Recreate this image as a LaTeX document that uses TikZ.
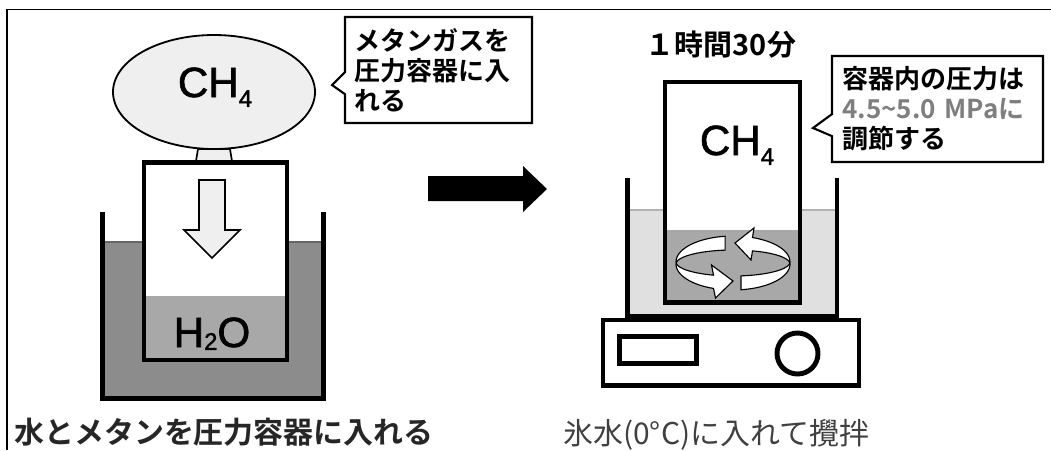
\documentclass[tikz,border=0pt]{standalone}
\usepackage{fontspec}
\setmainfont{Liberation Sans}
\newfontfamily\jp[BoldFont={Noto Sans CJK JP Bold}]{Noto Sans CJK JP}
\newfontfamily\kagakufont[FakeBold=1.5]{Liberation Sans}
\usetikzlibrary{shapes.callouts}

\definecolor{mizu}{HTML}{8C8C8C}
\definecolor{usumizu}{HTML}{E0E0E0}
\definecolor{haiiro}{HTML}{A8A8A8}
\definecolor{gasu}{HTML}{EFEFEF}
\definecolor{moji}{HTML}{7F7F7F}

\newcommand{\shita}[2][-7pt]{\raisebox{#1}{\fontsize{17}{17}\selectfont #2}}

\begin{document}
\begin{tikzpicture}[x=0.025cm, y=-0.025cm,
    wall/.style={line width=3.4pt, line join=miter},
    vessel/.style={line width=3.3pt},
    fukidashi/.style={rectangle callout, draw, fill=white, line width=1.5pt,
        callout pointer width=0.55cm, minimum height=2.65cm, align=left,
        inner sep=0pt, font=\jp\bfseries\fontsize{18.5}{21.3}\selectfont},
    kagaku/.style={font=\kagakufont\fontsize{30}{36}\selectfont, inner sep=0pt, anchor=base},
    caption/.style={inner sep=0pt, anchor=west}]
    \useasboundingbox (0,0) rectangle (1051,450);

    % 枠
    \draw[line width=1.4pt] (7,450) -- (7,9.5) -- (1051,9.5);

    % 水槽（左）
    \fill[mizu] (102.5,242) rectangle (323.5,398.3);
    \draw[line width=0.8pt, black!60] (102.5,242) -- (323.5,242);
    \draw[wall] (102.5,212) -- (102.5,398.3) -- (323.5,398.3) -- (323.5,212);

    % 圧力容器とメタンガス
    \fill[white] (144,162.5) rectangle (287,360);
    \fill[haiiro] (144,296) rectangle (287,360);
    \draw[vessel] (144,162.5) rectangle (287,360);
    \draw[fill=gasu, line width=1.2pt] (196,161) -- (198,149) -- (230,149) -- (232,161) -- cycle;
    \draw[fill=gasu, line width=1.3pt] (214,92) ellipse [x radius=101, y radius=57];
    \node (metanL) [kagaku] at (215,97) {CH\shita{4}};
    \node (mizuL) [kagaku] at (212,347) {H\shita[-2pt]{2}O};
    \draw[fill=gasu, line width=1.2pt] (199,180) -- (225,180) -- (225,230) -- (240,230)
        -- (212,258) -- (184,230) -- (199,230) -- cycle;

    \node (fukiL) [fukidashi, minimum width=4.675cm, text width=4.2cm,
        callout absolute pointer={(332,85)}] at (438.5,70) {メタンガスを\\圧力容器に入\\れる};

    % 矢印
    \fill (428,176) -- (523,176) -- (523,166) -- (547,189) -- (523,212) -- (523,201) -- (428,201) -- cycle;

    % 氷水とスターラー
    \fill[usumizu] (627.5,210) rectangle (837,316);
    \draw[line width=0.8pt, black!30] (627.5,210) -- (837,210);
    \draw[wall] (627.5,178) -- (627.5,316) -- (837,316) -- (837,178);
    \fill[white] (665,82) rectangle (800,302.5);
    \fill[haiiro] (665,230) rectangle (800,302.5);
    \draw[vessel] (665,82) rectangle (800,302.5);
    \node (metanR) [kagaku] at (737,155) {CH\shita{4}};

    % 撹拌の矢印
    \filldraw[fill=white, line width=0.8pt]
        plot[domain=262:110, samples=40] ({733+57*cos(\x)}, {263+20*sin(\x)-6*abs(sin(\x))-1})
        -- (711.5,265) -- (733,281) -- (715.5,298)
        -- plot[domain=110:262, samples=40] ({733+57*cos(\x)}, {263+20*sin(\x)+6*abs(sin(\x))+1})
        -- cycle;
    \filldraw[fill=white, line width=0.8pt]
        plot[domain=82:-70, samples=40] ({733+57*cos(\x)}, {263+20*sin(\x)-6*abs(sin(\x))-1})
        -- (754,228) -- (735,243) -- (751,260)
        -- plot[domain=-70:82, samples=40] ({733+57*cos(\x)}, {263+20*sin(\x)+6*abs(sin(\x))+1})
        -- cycle;

    \draw[line width=3.5pt] (603,320) rectangle (859,385.5);
    \draw[line width=3.5pt] (619.5,336.5) rectangle (696.5,363.5);
    \draw[line width=3.5pt] (797.5,353.5) circle [radius=20.5];

    \node (jikan) [font=\jp\bfseries\fontsize{20.6}{24}\selectfont, inner sep=0pt] at (721,45) {１時間30分};
    \node (fukiR) [fukidashi, minimum width=5.275cm, text width=4.75cm,
        callout absolute pointer={(813,128)}] at (937.5,109)
        {容器内の圧力は\\{\color{moji}4.5\textasciitilde5.0~MPaに}\\調節する};

    % 説明
    \node (setsumeiL) [caption, font=\jp\bfseries\fontsize{21.3}{25}\selectfont, text=black!85]
        at (14,432) {水とメタンを圧力容器に入れる};
    \node (setsumeiR) [caption, font=\jp\fontsize{21.3}{25}\selectfont, text=black!75]
        at (563,435) {氷水(0°C)に入れて攪拌};
\end{tikzpicture}
\end{document}
